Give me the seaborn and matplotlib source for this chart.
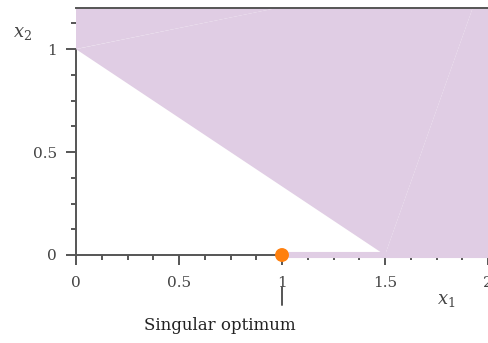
import numpy as np
import matplotlib
matplotlib.use("Agg")
import matplotlib.pyplot as plt
from matplotlib.ticker import MultipleLocator
from matplotlib.collections import PolyCollection
import seaborn as sns

# Feasible region: above the line from (0, 1) to (1.5, 0), split into triangles
region_x = [0.0, 0.0, 2.0, 1.5, 2.0]
region_y = [1.0, 1.41, 1.41, 0.0, 0.0]
region_tris = [[0, 1, 2], [0, 2, 3], [3, 2, 4]]

# Feasible segment along the x1 axis
seg_x = [1.0, 2.0]
seg_y = [0.0, 0.0]

# The optimum
opt_x = [1.0]
opt_y = [0.0]

x_ticks = [0, 0.5, 1, 1.5, 2]
x_tick_labels = ["0", "0.5", "1", "1.5", "2"]
y_ticks = [0, 0.5, 1]
y_tick_labels = ["0", "0.5", "1"]

fill_color = "#e0cde4"
axis_color = "#555555"
text_color = "#444444"
dot_color = "#ff800e"

sns.set_style("ticks")
plt.rcParams["font.family"] = ["DejaVu Serif"]
plt.rcParams["mathtext.fontset"] = "dejavuserif"

fig = plt.figure(figsize=(4.88, 3.43), dpi=100)
ax = fig.add_axes([76 / 488, 88 / 343, 412 / 488, 247 / 343])

tris = [[(region_x[i], region_y[i]) for i in t] for t in region_tris]
pc = PolyCollection(tris, facecolors=fill_color, edgecolors="none",
                    antialiaseds=True, zorder=3)
ax.add_collection(pc)

ax.plot(seg_x, seg_y, color=fill_color, lw=4.4, solid_capstyle="butt",
        zorder=3, clip_on=False)

sns.scatterplot(x=opt_x, y=opt_y, s=100, color=dot_color, edgecolor="none",
                zorder=6, clip_on=False, ax=ax, legend=False)

ax.set_xlim(0, 2)
ax.set_ylim(0, 1.2)

ax.set_xticks(x_ticks)
ax.set_xticklabels(x_tick_labels)
ax.set_yticks(y_ticks)
ax.set_yticklabels(y_tick_labels)
ax.xaxis.set_minor_locator(MultipleLocator(0.125))
ax.yaxis.set_minor_locator(MultipleLocator(0.125))

ax.tick_params(which="major", direction="out", length=7, width=1.4,
               color=axis_color, labelcolor=text_color, labelsize=11)
ax.tick_params(axis="x", which="major", pad=8)
ax.tick_params(axis="y", which="major", pad=6.5)
ax.tick_params(which="minor", direction="out", length=3.6, width=1.4,
               color=axis_color)

for side in ["left", "bottom", "top"]:
    ax.spines[side].set_color(axis_color)
    ax.spines[side].set_linewidth(1.4)
ax.spines["right"].set_visible(False)
ax.spines["top"].set_zorder(5)
ax.spines["left"].set_bounds(0, region_y[0])

ax.set_xlabel("$x_1$", fontsize=13, color=text_color, ha="center", va="center")
ax.xaxis.set_label_coords(0.898, -0.182)
ax.set_ylabel("$x_2$", fontsize=13, color=text_color, rotation=0,
              ha="center", va="center")
ax.yaxis.set_label_coords(-0.129, 0.9)

# Leader line and label for the optimum
ax.plot([opt_x[0], opt_x[0]], [opt_y[0] - 0.155, opt_y[0] - 0.243],
        color=axis_color, lw=1.4, clip_on=False)
ax.annotate("Singular optimum", xy=(opt_x[0], opt_y[0]), xycoords="data",
            xytext=(-44.6, -51), textcoords="offset points",
            ha="center", va="center", fontsize=12, color="#222222",
            annotation_clip=False)

fig.savefig("out.png", dpi=100)
